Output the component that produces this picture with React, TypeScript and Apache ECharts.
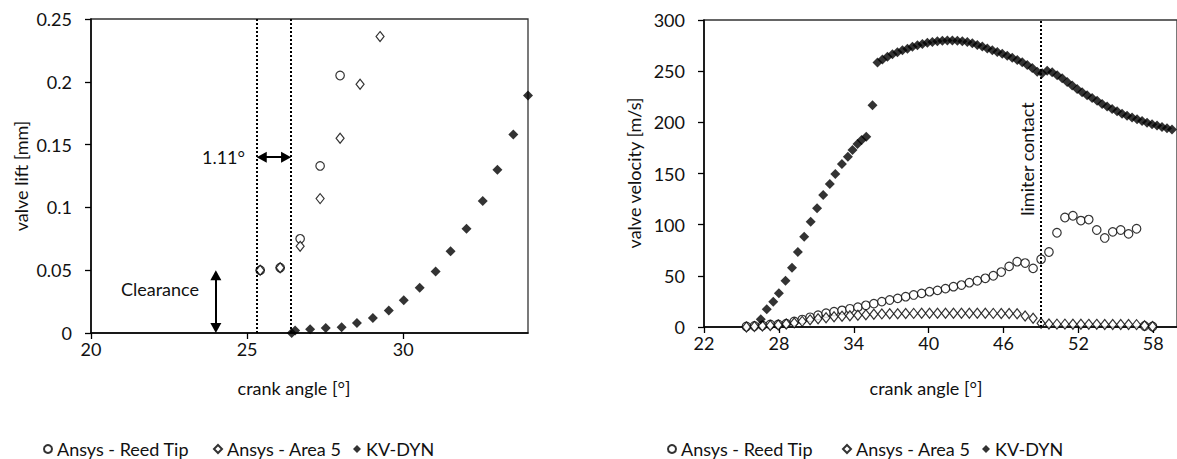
import { useEffect, useRef } from 'react';
import * as echarts from 'echarts';

const seriesNames = ['Ansys - Reed Tip', 'Ansys - Area 5', 'KV-DYN'];

// ---- Left chart: valve lift [mm] ----
const leftXTicks = [20, 25, 30];
const leftReedX = [25.42, 26.06, 26.7, 27.34, 27.98];
const leftReedY = [0.05, 0.052, 0.075, 0.133, 0.205];
const leftAreaX = [25.42, 26.06, 26.7, 27.34, 27.98, 28.62, 29.26];
const leftAreaY = [0.05, 0.052, 0.069, 0.107, 0.155, 0.198, 0.236];
const leftKvX = [26.43, 26.54, 27.02, 27.52, 28.03, 28.52, 29.03, 29.54, 30.02, 30.53, 31.04, 31.52, 32.03, 32.55, 33.02, 33.53, 34.0];
const leftKvY = [0.0, 0.002, 0.003, 0.004, 0.0045, 0.008, 0.012, 0.018, 0.026, 0.036, 0.049, 0.065, 0.083, 0.105, 0.13, 0.158, 0.189];
const contactLines = [25.31, 26.41];
// arrow shafts end where the arrow heads begin (heads drawn centred on the ends)
const shiftArrowX = [25.47, 26.25];
const shiftArrowY = 0.14;
const clearanceX = 24;
const clearanceY = [0.004, 0.046];

// ---- Right chart: valve velocity [m/s] ----
const rightXTicks = [22, 28, 34, 40, 46, 52, 58];
const rightAnsysX = [
  25.4, 26.04, 26.68, 27.31, 27.95, 28.59, 29.23, 29.87, 30.5, 31.14,
  31.78, 32.42, 33.06, 33.69, 34.33, 34.97, 35.61, 36.25, 36.88, 37.52,
  38.16, 38.8, 39.44, 40.07, 40.71, 41.35, 41.99, 42.63, 43.26, 43.9,
  44.54, 45.18, 45.82, 46.45, 47.09, 47.73, 48.37, 49.01, 49.64, 50.28,
  50.92, 51.56, 52.2, 52.83, 53.47, 54.11, 54.75, 55.39, 56.02, 56.66,
  57.3, 57.94,
];
const rightReedY = [
  0.5, 1, 1.5, 2.5, 2.5, 3.3, 5.5, 7.3, 9.5, 11.5,
  13.5, 15, 16.3, 17.8, 19.4, 21.2, 22.8, 24.8, 26.4, 28,
  29.6, 31.3, 32.9, 34.5, 35.8, 37.5, 39.4, 41, 43.3, 45.2,
  47.6, 50.1, 53.7, 59.2, 63.8, 62.5, 57.3, 66.2, 73.3, 92.1,
  107, 108.7, 104, 105, 94.8, 87, 93, 94.8, 91, 96,
  1, 0.5,
];
const rightAreaY = [
  0, 0.5, 1, 1.5, 2, 3, 4, 5.5, 7, 8,
  9, 10, 10.5, 11, 11.5, 12, 12.5, 12.8, 13, 13,
  13.2, 13.3, 13.4, 13.5, 13.5, 13.5, 13.5, 13.5, 13.5, 13.5,
  13.4, 13.3, 13.2, 13.2, 13, 10.7, 8.5, 3.6, 2.9, 2.8,
  2.8, 2.7, 2.7, 2.6, 2.6, 2.5, 2.5, 2.4, 2.4, 2.3,
  1.3, 0.5,
];
const rightKvX = [
  26.55, 27.03, 27.55, 28.0, 28.53, 29.05, 29.52, 30.03, 30.55, 31.06,
  31.55, 32.08, 32.52, 33.05, 33.53, 33.9, 34.3, 34.63, 35.0, 35.5,
  35.9, 36.3, 36.7, 37.1, 37.5, 37.9, 38.3, 38.7, 39.1, 39.5,
  39.9, 40.3, 40.7, 41.1, 41.5, 41.9, 42.3, 42.7, 43.1, 43.5,
  43.9, 44.3, 44.7, 45.1, 45.5, 45.9, 46.3, 46.7, 47.1, 47.5,
  47.9, 48.3, 48.7, 49.1, 49.5, 49.9, 50.3, 50.7, 51.1, 51.5,
  51.9, 52.3, 52.7, 53.1, 53.5, 53.9, 54.3, 54.7, 55.1, 55.5,
  55.9, 56.3, 56.7, 57.1, 57.5, 57.9, 58.3, 58.7, 59.1, 59.5,
];
const rightKvY = [
  7.5, 17.3, 24.7, 32.9, 45.2, 57.9, 73.3, 88.2, 102.9, 116,
  129, 139.7, 149.5, 159.3, 166.4, 173, 178.8, 182.7, 186, 216.6,
  258.5, 261.5, 264, 266.5, 268.5, 270.5, 272, 273.8, 275.3, 276.6,
  277.7, 278.5, 279.2, 279.7, 280, 280, 279.8, 279.3, 278.5, 277.2,
  275.6, 274, 272.2, 270.5, 268.8, 267, 265, 263, 261, 258.8,
  256, 253, 249.5, 248, 250.5, 249, 246, 243, 239.5, 236,
  232.5, 229.5, 226.5, 223.8, 221, 218, 215.5, 213, 210.8, 208.5,
  206.5, 204.8, 203, 201.3, 199.7, 198.2, 196.8, 195.4, 194.2, 193,
];
const limiterContactX = 49;

const zip = (xs: number[], ys: number[]) => xs.map((x, i) => [x, ys[i]]);

const FONT = 'Lato';
const FS = 18;
const TXT = '#111';

const reedStyle = { symbol: 'circle', symbolSize: 8.5, itemStyle: { color: '#fff', borderColor: '#000', borderWidth: 1.2 } };
const areaStyle = { symbol: 'diamond', symbolSize: [8, 10], itemStyle: { color: '#fff', borderColor: '#000', borderWidth: 1.2 } };
const kvStyle = { symbol: 'diamond', symbolSize: 10, itemStyle: { color: '#000' } };

function xAxisCfg(grid: number, min: number, max: number, ticks: number[]) {
  return {
    type: 'value', gridIndex: grid, min, max,
    axisLine: { show: true, onZero: false, lineStyle: { color: '#000', width: 1.5 } },
    axisTick: { show: true, length: 6, customValues: ticks, lineStyle: { color: '#000', width: 1.3 } },
    axisLabel: { customValues: ticks, margin: 7, fontSize: FS, color: TXT, fontFamily: FONT },
    splitLine: { show: false },
  };
}
function yAxisCfg(grid: number, min: number, max: number, interval: number) {
  return {
    type: 'value', gridIndex: grid, min, max, interval,
    axisLine: { show: true, onZero: false, lineStyle: { color: '#000', width: 1.5 } },
    axisTick: { show: true, length: 6, lineStyle: { color: '#000', width: 1.3 } },
    axisLabel: { margin: 19, fontSize: FS, color: TXT, fontFamily: FONT },
    splitLine: { show: false },
  };
}

const dotted = { color: '#000', type: [2, 2], width: 2 };

// legend marker left edges (one legend entry each, per chart)
const legendLefts = [[43, 213, 353], [667, 842, 982]];

export default function App() {
  const ref = useRef<HTMLDivElement>(null);
  useEffect(() => {
    if (!ref.current) return;
    const chart = echarts.init(ref.current, undefined, { renderer: 'svg' });
    const legends = legendLefts.flatMap((row) =>
      row.map((left, i) => ({
        left, top: 440, padding: 0, itemWidth: 8, itemHeight: 8,
        textStyle: { fontSize: FS, color: TXT, fontFamily: FONT },
        data: [seriesNames[i]],
      })),
    );
    const text = (t: string, x: number, y: number, align: string, rot = 0) => ({
      type: 'text', x, y, rotation: rot, silent: true,
      style: { text: t, fill: TXT, fontSize: FS, fontFamily: FONT, align, verticalAlign: 'middle' },
    });
    chart.setOption({
      animation: false,
      textStyle: { fontFamily: FONT },
      grid: [
        { left: 91, top: 19, width: 437, height: 314, show: true, borderColor: '#333', borderWidth: 1.3 },
        { left: 704, top: 20, width: 480, height: 307, show: true, borderColor: '#333', borderWidth: 1.3 },
      ],
      xAxis: [xAxisCfg(0, 20, 34, leftXTicks), xAxisCfg(1, 22, 59.9, rightXTicks)],
      yAxis: [yAxisCfg(0, 0, 0.25, 0.05), yAxisCfg(1, 0, 300, 50)],
      legend: legends,
      graphic: [
        text('valve lift [mm]', 21, 176, 'center', Math.PI / 2),
        text('valve velocity [m/s]', 634, 173, 'center', Math.PI / 2),
        text('crank angle [°]', 294, 388, 'center'),
        text('crank angle [°]', 926, 388, 'center'),
        text('1.11°', 245, 157, 'right'),
        text('Clearance', 199, 289, 'right'),
        text('limiter contact', 1027, 159, 'center', Math.PI / 2),
      ],
      series: [
        {
          name: seriesNames[0], type: 'scatter', xAxisIndex: 0, yAxisIndex: 0, ...reedStyle,
          data: zip(leftReedX, leftReedY),
          markLine: {
            silent: true, symbol: ['none', 'none'], label: { show: false }, lineStyle: dotted,
            data: contactLines.map((v) => ({ xAxis: v })),
          },
        },
        {
          name: seriesNames[1], type: 'scatter', xAxisIndex: 0, yAxisIndex: 0, ...areaStyle,
          data: zip(leftAreaX, leftAreaY),
          markLine: {
            silent: true, symbol: ['triangle', 'triangle'], symbolSize: [11, 10], label: { show: false },
            lineStyle: { color: '#000', type: 'solid', width: 2 },
            data: [
              [{ coord: [shiftArrowX[0], shiftArrowY] }, { coord: [shiftArrowX[1], shiftArrowY] }],
              [{ coord: [clearanceX, clearanceY[0]] }, { coord: [clearanceX, clearanceY[1]] }],
            ],
          },
        },
        {
          name: seriesNames[2], type: 'scatter', xAxisIndex: 0, yAxisIndex: 0, ...kvStyle,
          data: zip(leftKvX, leftKvY),
        },
        {
          name: seriesNames[0], type: 'scatter', xAxisIndex: 1, yAxisIndex: 1, ...reedStyle,
          data: zip(rightAnsysX, rightReedY),
          markLine: {
            silent: true, symbol: ['none', 'none'], label: { show: false }, lineStyle: dotted,
            data: [{ xAxis: limiterContactX }],
          },
        },
        {
          name: seriesNames[1], type: 'scatter', xAxisIndex: 1, yAxisIndex: 1, ...areaStyle,
          data: zip(rightAnsysX, rightAreaY),
        },
        {
          name: seriesNames[2], type: 'scatter', xAxisIndex: 1, yAxisIndex: 1, ...kvStyle,
          data: zip(rightKvX, rightKvY),
        },
      ],
    });
    return () => chart.dispose();
  }, []);
  return <div ref={ref} style={{ position: 'absolute', left: 0, top: 0, width: 1177, height: 459 }} />;
}
